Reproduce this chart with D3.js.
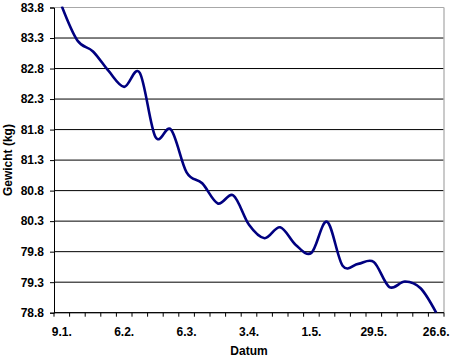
<!DOCTYPE html>
<html>
<head>
<meta charset="utf-8">
<script src="https://cdn.jsdelivr.net/npm/d3@7"></script>
<style>
  html, body { margin: 0; padding: 0; background: #fff; }
  svg { display: block; }
  text { font-family: "Liberation Sans", Arial, sans-serif; font-weight: bold; fill: #000; }
</style>
</head>
<body>
<script>
const categories = ["9.1.","16.1.","23.1.","30.1.","6.2.","13.2.","20.2.","27.2.","6.3.","13.3.","20.3.","27.3.","3.4.","10.4.","17.4.","24.4.","1.5.","8.5.","15.5.","22.5.","29.5.","5.6.","12.6.","19.6.","26.6."];
const weights = [83.82, 83.26, 83.08, 82.76, 82.5, 82.73, 81.68, 81.8, 81.1, 80.92, 80.59, 80.72, 80.24, 80.02, 80.2, 79.91, 79.78, 80.29, 79.57, 79.6, 79.63, 79.22, 79.31, 79.2, 78.8];
const xTickLabels = ["9.1.","6.2.","6.3.","3.4.","1.5.","29.5.","26.6."];
const yTicks = [78.8, 79.3, 79.8, 80.3, 80.8, 81.3, 81.8, 82.3, 82.8, 83.3, 83.8];

const W = 450, H = 359;
const pLeft = 54, pRight = 444, pTop = 7.5, pBottom = 312.7;
const FS = "12px";

const svg = d3.select("body").append("svg").attr("width", W).attr("height", H);

const x = d3.scaleBand().domain(categories).range([pLeft, pRight]).paddingInner(0).paddingOuter(0);
const y = d3.scaleLinear().domain([78.8, 83.8]).range([pBottom, pTop]);

// gridlines
svg.append("g").selectAll("line").data(yTicks.filter(v => v !== 83.8)).join("line")
  .attr("x1", pLeft).attr("x2", pRight)
  .attr("y1", d => y(d)).attr("y2", d => y(d))
  .attr("stroke", "#000").attr("stroke-width", 1);

// top and right border (gray)
svg.append("line").attr("x1", pLeft).attr("x2", pRight).attr("y1", y(83.8)).attr("y2", y(83.8))
  .attr("stroke", "#a8a8a8").attr("stroke-width", 1);
svg.append("line").attr("x1", pRight).attr("x2", pRight).attr("y1", pTop).attr("y2", pBottom)
  .attr("stroke", "#b8b8b8").attr("stroke-width", 1.5);

// y axis
const yAxis = d3.axisLeft(y).tickValues(yTicks).tickSize(4).tickPadding(6).tickFormat(d3.format(".1f"));
const gy = svg.append("g").attr("transform", `translate(${pLeft},0)`).call(yAxis);
gy.select(".domain").attr("stroke", "#000");
gy.selectAll(".tick line").attr("stroke", "#000");
gy.selectAll(".tick text").style("font-size", FS).style("font-family", "'Liberation Sans', Arial, sans-serif").style("font-weight", "bold").attr("fill", "#000");

// x axis: ticks at band edges
const edges = categories.map(c => x(c)).concat([x(categories[categories.length - 1]) + x.bandwidth()]);
const gx = svg.append("g");
gx.append("line").attr("x1", pLeft).attr("x2", pRight).attr("y1", pBottom).attr("y2", pBottom).attr("stroke", "#000");
gx.selectAll("line.tk").data(edges).join("line").attr("class", "tk")
  .attr("x1", d => d).attr("x2", d => d).attr("y1", pBottom).attr("y2", pBottom + 4)
  .attr("stroke", "#000");
gx.selectAll("text").data(xTickLabels).join("text")
  .attr("x", d => x(d) + x.bandwidth() / 2)
  .attr("y", 335.5)
  .attr("text-anchor", "middle")
  .style("font-size", FS)
  .text(d => d);

// axis titles
svg.append("text").attr("x", (pLeft + pRight) / 2).attr("y", 355).attr("text-anchor", "middle")
  .style("font-size", FS).text("Datum");
svg.append("text").attr("transform", `translate(12,${(pTop + pBottom) / 2}) rotate(-90)`)
  .attr("text-anchor", "middle").style("font-size", FS).text("Gewicht (kg)");

// clip
svg.append("clipPath").attr("id", "clip").append("rect")
  .attr("x", pLeft).attr("y", pTop - 1).attr("width", pRight - pLeft).attr("height", pBottom - pTop + 2);

// line
const line = d3.line()
  .x((d, i) => x(categories[i]) + x.bandwidth() / 2)
  .y(d => y(d))
  .curve(d3.curveCardinal.tension(0));

svg.append("path").datum(weights)
  .attr("clip-path", "url(#clip)")
  .attr("fill", "none")
  .attr("stroke", "#000080")
  .attr("stroke-width", 2.6)
  .attr("stroke-linejoin", "round")
  .attr("d", line);
</script>
</body>
</html>
